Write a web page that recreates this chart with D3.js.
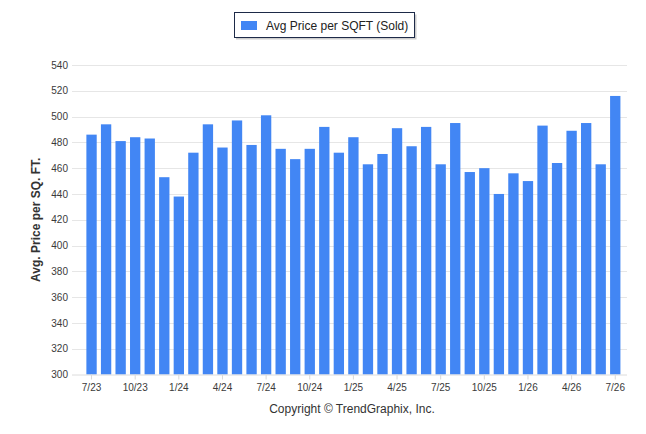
<!DOCTYPE html>
<html><head><meta charset="utf-8">
<script src="https://cdn.jsdelivr.net/npm/d3@7"></script>
<style>html,body{margin:0;padding:0;background:#fff;}svg{display:block;}</style>
</head><body>
<svg id="c" width="646" height="434"></svg>
<script>
const months = ["7/23","8/23","9/23","10/23","11/23","12/23","1/24","2/24","3/24","4/24","5/24","6/24","7/24","8/24","9/24","10/24","11/24","12/24","1/25","2/25","3/25","4/25","5/25","6/25","7/25","8/25","9/25","10/25","11/25","12/25","1/26","2/26","3/26","4/26","5/26","6/26","7/26"];
const values = [486,494,481,484,483,453,438,472,494,476,497,478,501,475,467,475,492,472,484,463,471,491,477,492,463,495,457,460,440,456,450,493,464,489,495,463,516];
const tickLabels = ["7/23","10/23","1/24","4/24","7/24","10/24","1/25","4/25","7/25","10/25","1/26","4/26","7/26"];
const yTicks = [300,320,340,360,380,400,420,440,460,480,500,520,540];
const seriesName = "Avg Price per SQFT (Sold)";
const yTitle = "Avg. Price per SQ. FT.";
const credit = "Copyright \u00A9 TrendGraphix, Inc.";

(function () {
const svg = d3.select("#c");
const font = "'Liberation Sans', Arial, sans-serif";
const gridL = 72, gridR = 627, plotTop = 65, plotBottom = 374.5;

const x = d3.scaleBand().domain(months).range([84.2, 622.6]).paddingInner(0.29).paddingOuter(0.15);
const y = d3.scaleLinear().domain([300, 540]).range([plotBottom, plotTop]);

// gridlines
svg.append("g").selectAll("line").data(yTicks.filter(d => d > 300)).join("line")
  .attr("x1", gridL).attr("x2", gridR)
  .attr("y1", d => Math.round(y(d)) + 0.5).attr("y2", d => Math.round(y(d)) + 0.5)
  .attr("stroke", "#e6e6e6").attr("stroke-width", 1);

// bars
svg.append("g").selectAll("rect").data(values).join("rect")
  .attr("x", (d, i) => x(months[i]))
  .attr("width", x.bandwidth())
  .attr("y", d => y(d))
  .attr("height", d => y(300) - y(d))
  .attr("fill", "#4286f4");

// x axis
const xAxis = d3.axisBottom(x).tickValues(tickLabels).tickSize(5).tickPadding(4);
const gx = svg.append("g").attr("transform", `translate(0,${plotBottom})`).call(xAxis);
gx.select(".domain").remove();
gx.append("line").attr("x1", gridL).attr("x2", gridR).attr("y1", 0.5).attr("y2", 0.5).attr("stroke", "#dcdcdc");
gx.selectAll(".tick line").attr("stroke", "#d8d8d8");
gx.selectAll(".tick text").attr("fill", "#3a3a3a").style("font", `10px ${font}`);

// y axis labels
const yAxis = d3.axisLeft(y).tickValues(yTicks).tickSize(0).tickPadding(4);
const gy = svg.append("g").attr("transform", `translate(${gridL},0)`).call(yAxis);
gy.select(".domain").remove();
gy.selectAll(".tick text").attr("fill", "#3a3a3a").style("font", `10px ${font}`);

// y title
svg.append("text").attr("transform", `translate(40,${(plotTop + plotBottom) / 2}) rotate(-90)`)
  .attr("text-anchor", "middle").attr("fill", "#333").style("font", `bold 12px ${font}`).text(yTitle);

// legend
const lg = svg.append("g");
lg.append("rect").attr("x", 236).attr("y", 14.5).attr("width", 180.5).attr("height", 25).attr("fill", "#999").attr("opacity", 0.5);
lg.append("rect").attr("x", 234.5).attr("y", 12.5).attr("width", 180).attr("height", 25).attr("fill", "#fff").attr("stroke", "#1d2a48");
lg.append("rect").attr("x", 241).attr("y", 21).attr("width", 16).attr("height", 9).attr("fill", "#4286f4");
lg.append("text").attr("x", 266).attr("y", 30).attr("fill", "#222").style("font", `12px ${font}`).text(seriesName);

// credit
svg.append("text").attr("x", 352).attr("y", 413).attr("text-anchor", "middle").attr("fill", "#333")
  .style("font", `12px ${font}`).text(credit);
})();
</script>
</body></html>
